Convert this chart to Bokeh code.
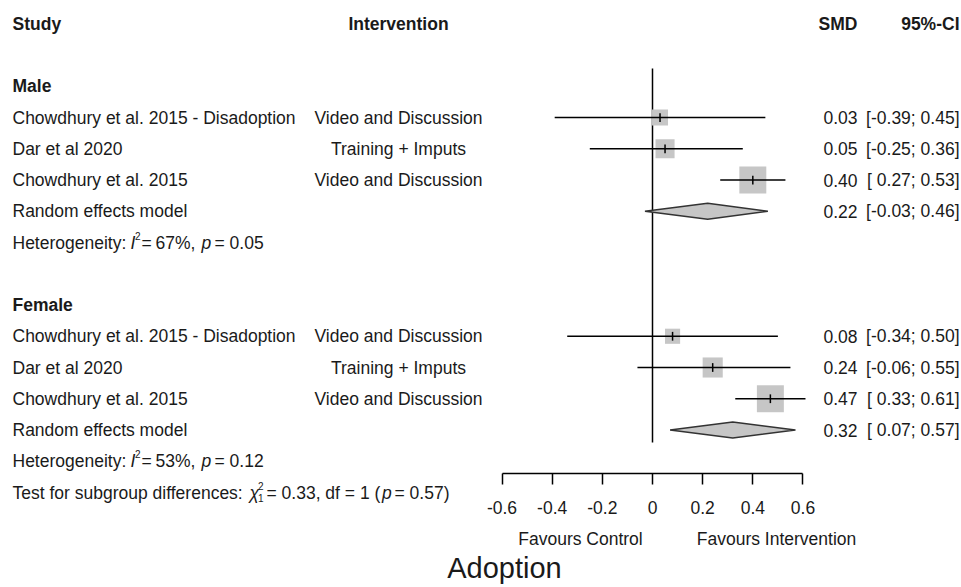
from bokeh.plotting import figure
from bokeh.models import Range1d, LinearAxis, FixedTicker
from bokeh.core.properties import value
from bokeh.embed import file_html
from bokeh.resources import INLINE

# ---------------- data ----------------
male_studies = ["Chowdhury et al. 2015 - Disadoption", "Dar et al 2020", "Chowdhury et al. 2015"]
male_interventions = ["Video and Discussion", "Training + Imputs", "Video and Discussion"]
male_smd = [0.03, 0.05, 0.40]
male_lo = [-0.39, -0.25, 0.27]
male_hi = [0.45, 0.36, 0.53]
male_weight = [19, 27, 54]
male_re = [0.22, -0.03, 0.46]          # estimate, lower, upper
male_i2 = "67%"
male_p = "0.05"

female_studies = ["Chowdhury et al. 2015 - Disadoption", "Dar et al 2020", "Chowdhury et al. 2015"]
female_interventions = ["Video and Discussion", "Training + Imputs", "Video and Discussion"]
female_smd = [0.08, 0.24, 0.47]
female_lo = [-0.34, -0.06, 0.33]
female_hi = [0.50, 0.55, 0.61]
female_weight = [17, 30, 54]
female_re = [0.32, 0.07, 0.57]
female_i2 = "53%"
female_p = "0.12"

test_chi2 = "0.33"
test_df = "1"
test_p = "0.57"

x_ticks = [-0.6, -0.4, -0.2, 0, 0.2, 0.4, 0.6]
tick_labels = ["-0.6", "-0.4", "-0.2", "0", "0.2", "0.4", "0.6"]
favours_labels = ["Favours Control", "Favours Intervention"]
chart_title = "Adoption"

# ---------------- layout ----------------
W, H = 961, 587
PX = 250.8          # pixels per SMD unit
X0 = 652            # canvas x of SMD = 0
ROW = 31.25         # row pitch
Y0 = 117            # canvas y of row 0

FONT = "Liberation Sans"
FS = "17.5px"
SMALL = "10px"
TXT = "#1a1a1a"
BOX = "#c6c6c6"

SMD_R = 857         # right edge of SMD column (px)
CI_R = 959          # right edge of CI column (px)


def xs(sx):
    return (sx - X0) / PX


def kr(sy):
    return (sy - Y0) / ROW


p = figure(width=W, height=H, output_backend="svg", toolbar_location=None,
           x_axis_type=None, y_axis_type=None,
           x_range=Range1d(-X0 / PX, (W - X0) / PX),
           y_range=Range1d((H - Y0) / ROW, -Y0 / ROW),
           min_border=0)
p.outline_line_color = None
p.background_fill_color = "white"
p.border_fill_color = "white"
p.xgrid.visible = False
p.ygrid.visible = False


def txt(x, y, s, align="left", weight="normal", style="normal", size=FS):
    p.text(x=[x], y=[y], text=[s], text_align=align, text_baseline="middle",
           text_font=value(FONT), text_font_size=size, text_font_style=(
               "bold" if weight == "bold" else style),
           text_color=TXT)


# column headers
txt(xs(12), -3, "Study", weight="bold")
txt(xs(398), -3, "Intervention", align="center", weight="bold")
txt(xs(SMD_R), -3, "SMD", align="right", weight="bold")
txt(xs(CI_R), -3, "95%-CI", align="right", weight="bold")

# zero line
p.segment(x0=[0], y0=[kr(68)], x1=[0], y1=[kr(442)], line_color="black", line_width=1.5)

groups = [
    ("Male", 0, male_studies, male_interventions, male_smd, male_lo, male_hi,
     male_weight, male_re, male_i2, male_p),
    ("Female", 7, female_studies, female_interventions, female_smd, female_lo,
     female_hi, female_weight, female_re, female_i2, female_p),
]

for name, r0, st, iv, smd, lo, hi, wt, re, i2, pv in groups:
    rows = [r0 + i for i in range(len(st))]
    txt(xs(12), r0 - 1, name, weight="bold")
    for r, s, v in zip(rows, st, iv):
        txt(xs(12), r, s)
        txt(xs(398), r, v, align="center")
    # boxes
    sizes = [3.67 * (w ** 0.5) for w in wt]
    p.scatter(x=smd, y=rows, size=sizes, marker="square", fill_color=BOX, line_color=None)
    # CI lines
    p.segment(x0=lo, y0=rows, x1=hi, y1=rows, line_color="black", line_width=1.6)
    # estimate ticks
    p.segment(x0=smd, y0=[r - 0.14 for r in rows], x1=smd, y1=[r + 0.14 for r in rows],
              line_color="black", line_width=1.5)
    # numbers
    for r, e, l, h in zip(rows, smd, lo, hi):
        txt(xs(SMD_R), r, f"{e:.2f}", align="right")
        txt(xs(CI_R), r, f"[{l:5.2f}; {h:4.2f}]", align="right")
    # random effects
    rr = r0 + len(st)
    txt(xs(12), rr, "Random effects model")
    est, rl, rh = re
    hd = 8 / ROW
    p.patch(x=[rl, est, rh, est], y=[rr, rr - hd, rr, rr + hd],
            fill_color=BOX, line_color="#333333", line_width=1.5)
    txt(xs(SMD_R), rr, f"{est:.2f}", align="right")
    txt(xs(CI_R), rr, f"[{rl:5.2f}; {rh:4.2f}]", align="right")
    # heterogeneity
    hr = rr + 1
    txt(xs(12), hr, "Heterogeneity:")
    txt(xs(130), hr, "I", style="italic")
    txt(xs(134.5), hr - 0.22, "2", size=SMALL)
    txt(xs(141), hr, "=")
    txt(xs(155), hr, f"{i2},")
    txt(xs(201), hr, "p", style="italic")
    txt(xs(214), hr, f"= {pv}")

# test for subgroup differences
tr = 12
txt(xs(12), tr, "Test for subgroup differences:")
txt(xs(249), tr, "\u03c7", style="italic")
txt(xs(257.5), tr - 0.22, "2", size=SMALL)
txt(xs(257.5), tr + 0.18, "1", size=SMALL)
txt(xs(266), tr, f"= {test_chi2}, df = {test_df} (")
txt(xs(381.5), tr, "p", style="italic")
txt(xs(394), tr, f"= {test_p})")

# axis, drawn at a fixed row position inside the frame
ax = LinearAxis(bounds=(min(x_ticks), max(x_ticks)), ticker=FixedTicker(ticks=x_ticks),
                major_label_overrides={t: l for t, l in zip(x_ticks, tick_labels)},
                fixed_location=kr(473))
ax.axis_line_color = "black"
ax.axis_line_width = 1.5
ax.major_tick_line_color = "black"
ax.major_tick_line_width = 1.5
ax.major_tick_out = 11
ax.major_tick_in = 0
ax.minor_tick_out = 0
ax.minor_tick_in = 0
ax.major_label_standoff = 16
ax.major_label_text_font = FONT
ax.major_label_text_font_size = FS
ax.major_label_text_color = TXT
p.add_layout(ax, "below")

for sx, s in zip([580, 776], favours_labels):
    txt(xs(sx), kr(538), s, align="center")
txt(xs(504), kr(567), chart_title, align="center", size="29px")

open("out.html", "w").write(file_html(p, INLINE))
